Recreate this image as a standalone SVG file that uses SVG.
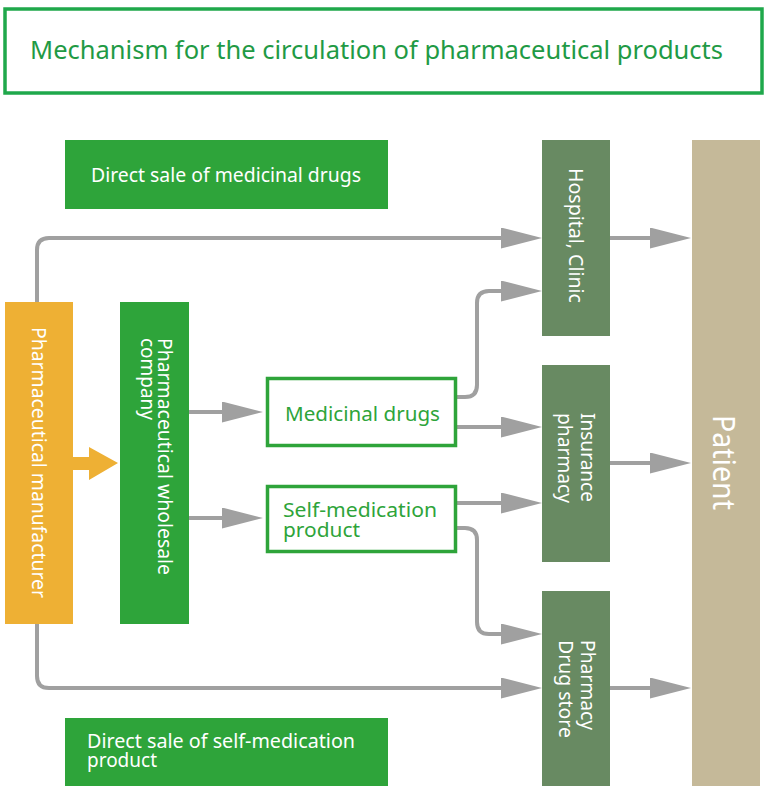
<svg xmlns="http://www.w3.org/2000/svg" width="768" height="794" viewBox="0 0 768 794">
<style>
  text { font-family: "Noto Sans", "Open Sans", "DejaVu Sans", sans-serif; }
  .w { fill: #ffffff; font-size: 19px; }
  .g { fill: #2ea43a; font-size: 19px; }
  .conn path { fill: none; stroke: #a0a0a0; stroke-width: 4; }
  .green { fill: #2ea43a; }
  .dk { fill: #688a62; }
</style>
<defs>
  <marker id="ah" markerUnits="userSpaceOnUse" markerWidth="41" markerHeight="21" refX="11" refY="10.5" orient="auto" viewBox="0 0 41 21">
    <path d="M0,0 L41,10.5 L0,21 z" fill="#a0a0a0"/>
  </marker>
</defs>
<rect x="0" y="0" width="768" height="794" fill="#ffffff"/>

<g id="title">
  <rect x="5" y="9" width="757" height="84" fill="#ffffff" stroke="#1fa84b" stroke-width="3.5"/>
  <text x="30" y="59" font-size="25" fill="#1f9a45" textLength="693" lengthAdjust="spacingAndGlyphs">Mechanism for the circulation of pharmaceutical products</text>
</g>

<g class="conn" id="connectors">
  <path d="M37,302 V250 Q37,238 49,238 H512" marker-end="url(#ah)"/>
  <path d="M610,238 H661" marker-end="url(#ah)"/>
  <path d="M457,397 H465 Q477,397 477,385 V303 Q477,291 489,291 H512" marker-end="url(#ah)"/>
  <path d="M457,427 H512" marker-end="url(#ah)"/>
  <path d="M457,503 H512" marker-end="url(#ah)"/>
  <path d="M457,528 H465 Q477,528 477,540 V622 Q477,634 489,634 H512" marker-end="url(#ah)"/>
  <path d="M37,624 V676 Q37,688 49,688 H512" marker-end="url(#ah)"/>
  <path d="M610,463 H661" marker-end="url(#ah)"/>
  <path d="M610,688 H661" marker-end="url(#ah)"/>
  <path d="M189,412 H233" marker-end="url(#ah)"/>
  <path d="M189,518 H233" marker-end="url(#ah)"/>
  <polygon points="73,457 89,457 89,447 118,463 89,480 89,470 73,470" fill="#eeb034"/>
</g>

<g id="direct-medicinal">
  <rect class="green" x="65" y="140" width="323" height="69"/>
  <text class="w" x="91" y="182" textLength="270" lengthAdjust="spacingAndGlyphs">Direct sale of medicinal drugs</text>
</g>

<g id="direct-self">
  <rect class="green" x="65" y="718" width="323" height="68"/>
  <text class="w" x="87" y="748" textLength="268" lengthAdjust="spacingAndGlyphs">Direct sale of self-medication</text>
  <text class="w" x="87" y="767" textLength="70" lengthAdjust="spacingAndGlyphs">product</text>
</g>

<g id="manufacturer">
  <rect x="5" y="302" width="68" height="322" fill="#eeb034"/>
  <text class="w" transform="translate(32,327) rotate(90)" textLength="271" lengthAdjust="spacingAndGlyphs" style="font-size:20px">Pharmaceutical manufacturer</text>
</g>

<g id="wholesale">
  <rect class="green" x="120" y="302" width="69" height="322"/>
  <text class="w" transform="translate(158,338) rotate(90)" textLength="237" lengthAdjust="spacingAndGlyphs">Pharmaceutical wholesale</text>
  <text class="w" transform="translate(141,338) rotate(90)" textLength="82" lengthAdjust="spacingAndGlyphs">company</text>
</g>

<g id="medicinal-drugs">
  <rect x="267.5" y="378.5" width="188" height="67" fill="#ffffff" stroke="#2ea43a" stroke-width="3.5"/>
  <text class="g" x="285" y="421" textLength="155" lengthAdjust="spacingAndGlyphs">Medicinal drugs</text>
</g>

<g id="self-medication">
  <rect x="267.5" y="486.5" width="188" height="65" fill="#ffffff" stroke="#2ea43a" stroke-width="3.5"/>
  <text class="g" x="283" y="517" textLength="154" lengthAdjust="spacingAndGlyphs">Self-medication</text>
  <text class="g" x="283" y="537" textLength="77" lengthAdjust="spacingAndGlyphs">product</text>
</g>

<g id="hospital">
  <rect class="dk" x="542" y="140" width="68" height="196"/>
  <text class="w" transform="translate(569,168) rotate(90)" textLength="135" lengthAdjust="spacingAndGlyphs">Hospital, Clinic</text>
</g>

<g id="insurance">
  <rect class="dk" x="542" y="365" width="68" height="197"/>
  <text class="w" transform="translate(581,413) rotate(90)" textLength="89" lengthAdjust="spacingAndGlyphs">Insurance</text>
  <text class="w" transform="translate(558,413) rotate(90)" textLength="90" lengthAdjust="spacingAndGlyphs">pharmacy</text>
</g>

<g id="drugstore">
  <rect class="dk" x="542" y="591" width="68" height="195"/>
  <text class="w" transform="translate(581,640) rotate(90)" textLength="90" lengthAdjust="spacingAndGlyphs">Pharmacy</text>
  <text class="w" transform="translate(559,640) rotate(90)" textLength="98" lengthAdjust="spacingAndGlyphs">Drug store</text>
</g>

<g id="patient">
  <rect x="692" y="140" width="68" height="646" fill="#c5b999"/>
  <text class="w" transform="translate(713,415) rotate(90)" textLength="95" lengthAdjust="spacingAndGlyphs" style="font-size:30px">Patient</text>
</g>
</svg>
